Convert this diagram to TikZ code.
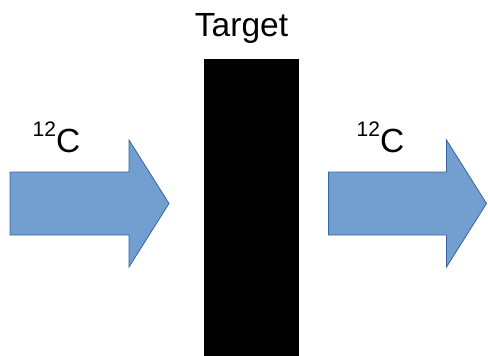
\documentclass[tikz,border=0pt]{standalone}
\usepackage{fontspec}
\setmainfont{Liberation Sans}
\definecolor{beamfill}{HTML}{729FCF}
\definecolor{beamline}{HTML}{3465A4}
\tikzset{
  beam/.style={fill=beamfill, draw=beamline, line width=0.8pt, line join=miter},
  lbl/.style={anchor=base west, inner sep=0pt, font=\fontsize{33.5}{33.5}\selectfont},
}
\newcommand{\carbon}{\raisebox{16pt}{\fontsize{21}{21}\selectfont 12}C}
\begin{document}
\begin{tikzpicture}[x=1pt,y=-1pt]
  \useasboundingbox (0,0) rectangle (488,356);
  % target slab
  \fill[black] (203.5,58.5) rectangle (299,356);
  \node[anchor=base, inner sep=0pt, font=\fontsize{33.5}{33.5}\selectfont] (target) at (241.5,37) {Target};
  % incoming beam
  \draw[beam] (10,172) -- (129,172) -- (129,140) -- (169,203.5) -- (129,267) -- (129,235) -- (10,235) -- cycle;
  \node[lbl] (incoming) at (32.5,152) {\carbon};
  % outgoing beam
  \draw[beam] (328.5,172) -- (446.5,172) -- (446.5,140) -- (486.5,203.5) -- (446.5,267) -- (446.5,235) -- (328.5,235) -- cycle;
  \node[lbl] (outgoing) at (356.5,152) {\carbon};
\end{tikzpicture}
\end{document}
